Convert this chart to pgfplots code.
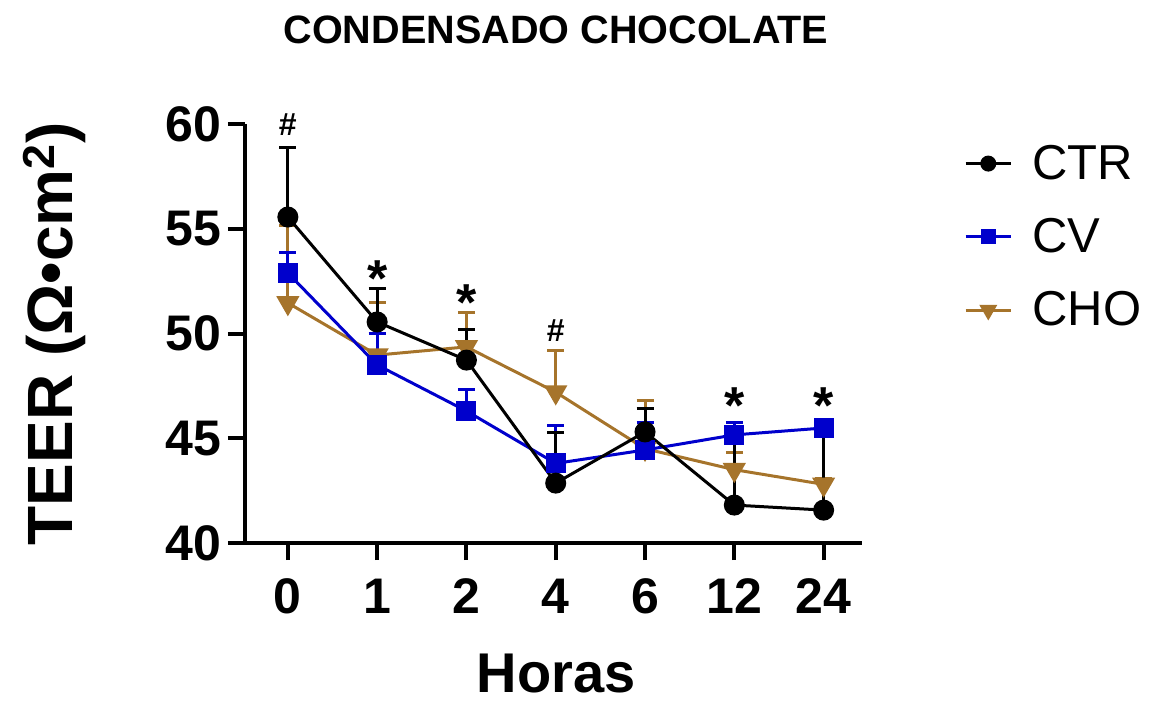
\documentclass[border=0pt]{standalone}
\usepackage{fontspec}
\setmainfont{Liberation Sans}
\usepackage{pgfplots}
\pgfplotsset{compat=1.18}
\definecolor{cvblue}{RGB}{0,0,204}
\definecolor{chobrown}{RGB}{166,116,43}
\pgfplotstableread{
x y e
0 55.56 3.3
1 50.55 1.6
2 48.73 1.45
3 42.86 2.4
4 45.30 1.1
5 41.81 3.1
6 41.57 3.9
}\ctr
\pgfplotstableread{
x y e
0 52.89 1.0
1 48.50 1.5
2 46.30 1.05
3 43.80 1.8
4 44.44 1.3
5 45.16 0.6
6 45.49 0.3
}\cv
\pgfplotstableread{
x y e
0 51.46 3.7
1 48.97 2.5
2 49.36 1.65
3 47.20 2.0
4 44.50 2.3
5 43.50 0.8
6 42.80 0.3
}\cho
\begin{document}
\begin{tikzpicture}
\useasboundingbox (-122.5pt,-79.5pt) rectangle (459pt,271.5pt);
\begin{axis}[
  scale only axis, width=308.5pt, height=209.5pt,
  xmin=-0.48, xmax=6.43, ymin=40, ymax=60,
  axis x line*=bottom, axis y line*=left,
  axis line style={line width=2pt},
  xtick={0,...,6}, xticklabels={0,1,2,4,6,12,24},
  ytick={40,45,...,60},
  tick align=outside, major tick length=8.5pt,
  tick style={line width=2pt, black},
  ticklabel style={font=\fontsize{25}{30}\selectfont\bfseries},
  xticklabel style={yshift=-6pt},
  /pgf/number format/assume math mode=true,
  xlabel={Horas}, ylabel={TEER (Ω•cm\textsuperscript{2})},
  xlabel style={font=\fontsize{28}{34}\selectfont\bfseries, at={(axis description cs:0.504,-0.312)}, anchor=center, inner sep=0pt},
  ylabel style={font=\fontsize{32}{38}\selectfont\bfseries, at={(axis description cs:-0.308,0.5)}, anchor=center, inner sep=0pt},
  title={CONDENSADO CHOCOLATE},
  every axis title shift=0pt,
  title style={font=\fontsize{19.8}{24}\selectfont\bfseries, at={(axis description cs:0.504,1.224)}, anchor=center, inner sep=0pt},
  legend style={at={(axis description cs:1.155,0.97)}, anchor=north west, draw=none, fill=none, font=\fontsize{24.5}{29}\selectfont, row sep=14pt},
  legend cell align=left,
  reverse legend,
  legend image code/.code={\draw[mark repeat=2,mark phase=2, every mark/.append style={scale=0.72}] plot coordinates {(0cm,0cm)(0.4cm,0cm)(0.8cm,0cm)}; \path (0.8cm+8pt,0);},
  clip=false,
]
\addplot[color=chobrown, line width=1.5pt, mark=triangle*, mark size=5.2pt, mark options={rotate=180, solid},
  error bars/.cd, y dir=plus, y explicit, error bar style={line width=1.5pt}, error mark options={rotate=90, line width=1.5pt, mark size=4.25pt}]
  table[x=x, y=y, y error=e] {\cho};
\addlegendentry{CHO}
\addplot[color=cvblue, line width=1.5pt, mark=square*, mark size=4.25pt, mark options={solid},
  error bars/.cd, y dir=plus, y explicit, error bar style={line width=1.5pt}, error mark options={rotate=90, line width=1.5pt, mark size=4.25pt}]
  table[x=x, y=y, y error=e] {\cv};
\addlegendentry{CV}
\addplot[color=black, line width=1.5pt, mark=*, mark size=4.5pt, mark options={solid},
  error bars/.cd, y dir=plus, y explicit, error bar style={line width=1.5pt}, error mark options={rotate=90, line width=1.5pt, mark size=4.25pt}]
  table[x=x, y=y, y error=e] {\ctr};
\addlegendentry{CTR}
\node[font=\fontsize{16}{18}\selectfont\bfseries, anchor=base] at (axis cs:0,59.43) {\#};
\node[font=\fontsize{16}{18}\selectfont\bfseries, anchor=base] at (axis cs:3,49.64) {\#};
\node[font=\fontsize{26}{30}\selectfont\bfseries, anchor=base] at (axis cs:1,51.75) {*};
\node[font=\fontsize{26}{30}\selectfont\bfseries, anchor=base] at (axis cs:2,50.6) {*};
\node[font=\fontsize{26}{30}\selectfont\bfseries, anchor=base] at (axis cs:5,45.7) {*};
\node[font=\fontsize{26}{30}\selectfont\bfseries, anchor=base] at (axis cs:6,45.7) {*};
\end{axis}
\end{tikzpicture}
\end{document}
